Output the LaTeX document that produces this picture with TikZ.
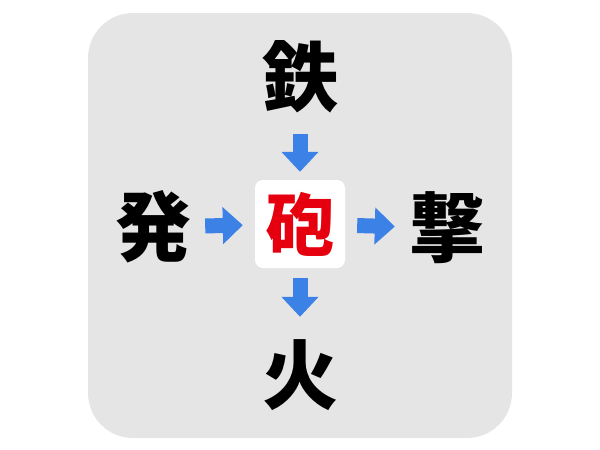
\documentclass[tikz,border=0pt]{standalone}
\usepackage{fontspec}
\usetikzlibrary{arrows.meta}
\newfontfamily\jpfont{Noto Sans CJK JP}
\definecolor{panelgray}{HTML}{E5E5E5}
\definecolor{arrowblue}{HTML}{3C82E6}
\definecolor{kanjired}{HTML}{E6000F}
\tikzset{
  kanji/.style={font=\jpfont\bfseries\fontsize{76}{80}\selectfont, inner sep=0pt, minimum size=80pt},
  blockarrow/.style={arrowblue, line width=15pt, -{Triangle[width=36pt,length=20pt]}}
}
\begin{document}
\begin{tikzpicture}[x=1pt,y=-1pt]
    \useasboundingbox (0,0) rectangle (600,450);
    \fill[panelgray,rounded corners=45pt] (88,13) rectangle (512,438);
    \node[fill=white,rounded corners=8pt,minimum width=90pt,minimum height=88pt,inner sep=0pt,
          font=\jpfont\bfseries\fontsize{68}{72}\selectfont,text=kanjired] (hou) at (300,224) {砲};
    \node[kanji] (tetsu) at (300,77) {鉄};
    \node[kanji] (hatsu) at (153,227) {発};
    \node[kanji] (geki) at (447,228) {撃};
    \node[kanji] (hi) at (300,375) {火};
    \draw[blockarrow,shorten <=17pt,shorten >=8pt] (tetsu) -- (hou);
    \draw[blockarrow,shorten <=12pt,shorten >=12pt] (hatsu) -- (hou);
    \draw[blockarrow,shorten <=12pt,shorten >=12pt] (hou) -- (geki);
    \draw[blockarrow,shorten <=10pt,shorten >=18pt] (hou) -- (hi);
\end{tikzpicture}
\end{document}
